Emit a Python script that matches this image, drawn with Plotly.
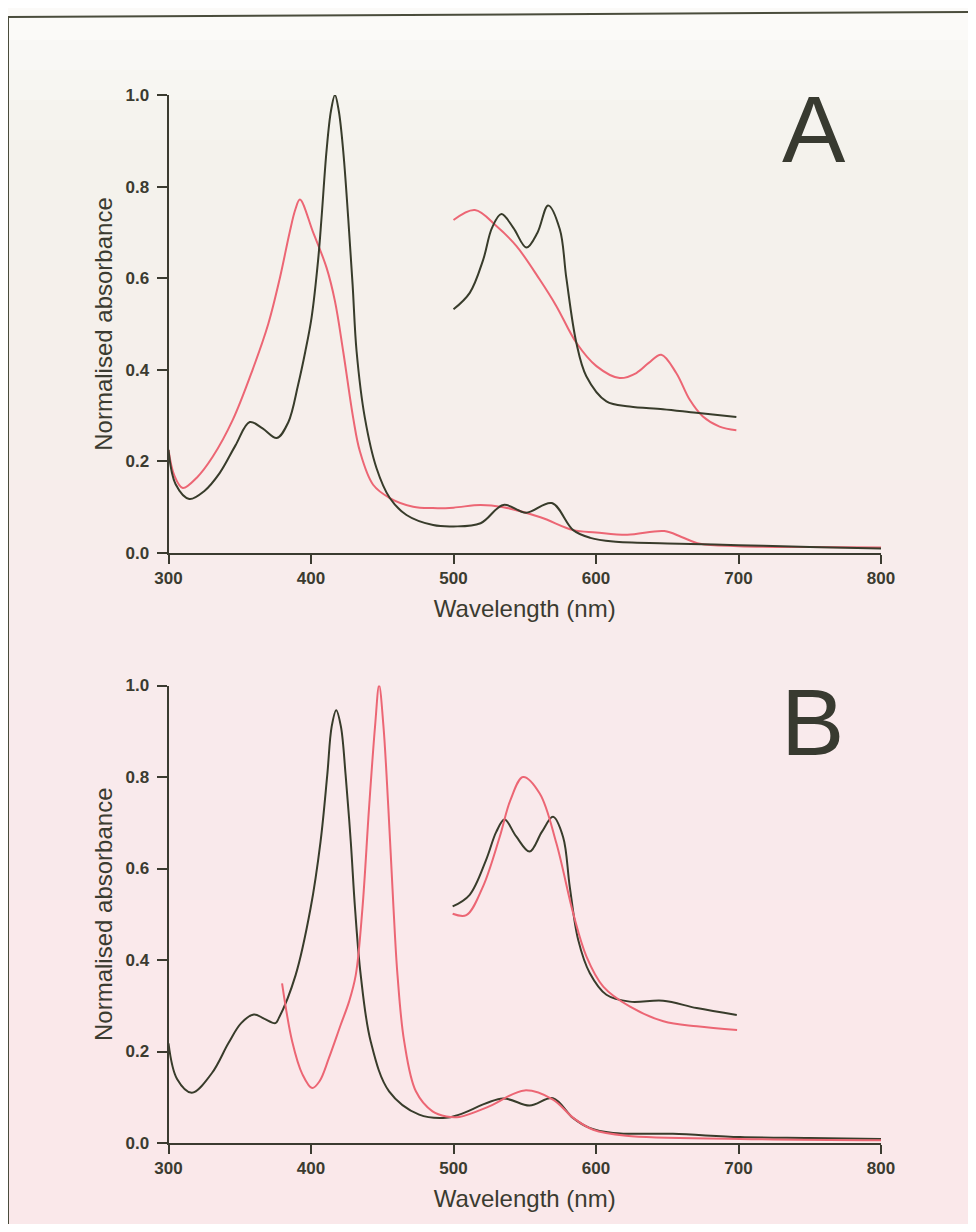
import plotly.graph_objects as go

# ---------------- Panel A data ----------------
a_dark_x = [300, 305, 314.6, 325, 336, 347, 357, 366, 376, 384, 391, 396, 400.4, 405, 407.4, 410.9, 414, 416.8, 419.5, 422.6, 426.1, 429.2, 432, 437.8, 446, 455.3, 467, 485.7, 500, 519, 535, 551, 569, 584, 596, 612, 650, 700, 750, 800]
a_dark_y = [0.225, 0.15, 0.118, 0.135, 0.175, 0.235, 0.286, 0.272, 0.251, 0.285, 0.368, 0.44, 0.514, 0.64, 0.732, 0.878, 0.965, 1.0, 0.965, 0.878, 0.732, 0.586, 0.44, 0.295, 0.185, 0.12, 0.083, 0.061, 0.058, 0.065, 0.105, 0.088, 0.109, 0.05, 0.033, 0.025, 0.021, 0.017, 0.013, 0.01]

a_red_x = [300, 304, 310, 320, 331, 345, 359, 370, 378.2, 385, 389, 392.2, 401.5, 410.9, 416.8, 422.6, 429.6, 434.3, 443.6, 455.3, 471.7, 485.5, 500, 519, 535, 561, 584, 600, 622, 648, 660, 673, 700, 750, 800]
a_red_y = [0.225, 0.17, 0.142, 0.165, 0.21, 0.29, 0.40, 0.50, 0.601, 0.70, 0.75, 0.772, 0.70, 0.623, 0.55, 0.44, 0.295, 0.222, 0.149, 0.12, 0.101, 0.098, 0.099, 0.105, 0.10, 0.078, 0.05, 0.045, 0.04, 0.048, 0.035, 0.02, 0.015, 0.013, 0.012]

# magnified Q-band region, panel A
a_dark_q_x = [500, 511.4, 520.8, 527, 533.6, 542, 551.2, 559, 566.4, 574.6, 579.2, 586.2, 593.2, 607.3, 623.6, 647, 670.4, 698.5]
a_dark_q_y = [0.532, 0.568, 0.64, 0.71, 0.74, 0.71, 0.667, 0.70, 0.759, 0.707, 0.60, 0.459, 0.386, 0.331, 0.32, 0.314, 0.306, 0.297]

a_red_q_x = [500, 515, 530.1, 544.2, 560.5, 572.2, 586.2, 600.3, 616.6, 628.3, 637, 645.8, 656.3, 665.7, 675, 686.7, 698.5]
a_red_q_y = [0.727, 0.749, 0.714, 0.67, 0.597, 0.539, 0.459, 0.408, 0.382, 0.393, 0.415, 0.433, 0.393, 0.335, 0.298, 0.276, 0.268]

# ---------------- Panel B data ----------------
b_dark_x = [300, 306, 316.4, 330.5, 342, 351, 359.9, 367, 375, 377.4, 389.2, 399.7, 406.7, 411.4, 414.5, 417.7, 421, 424.3, 427.9, 430.9, 434.9, 441.9, 454.8, 475.9, 494.8, 504, 534.7, 553.4, 569.8, 583.8, 595.5, 612, 654, 701, 750, 800]
b_dark_y = [0.218, 0.14, 0.11, 0.153, 0.218, 0.262, 0.281, 0.272, 0.262, 0.273, 0.367, 0.513, 0.659, 0.804, 0.91, 0.946, 0.91, 0.804, 0.659, 0.513, 0.367, 0.222, 0.113, 0.062, 0.055, 0.062, 0.097, 0.082, 0.098, 0.055, 0.033, 0.022, 0.02, 0.013, 0.011, 0.009]

b_red_x = [379.7, 386.8, 394, 400.8, 406, 412.6, 420.8, 426.7, 431.4, 436.1, 440.7, 445, 447.8, 450.8, 454.3, 457.9, 460.7, 465.4, 473.6, 485.3, 495, 504, 525, 549.9, 569.8, 584, 598, 621, 701, 800]
b_red_y = [0.349, 0.222, 0.15, 0.12, 0.135, 0.186, 0.258, 0.309, 0.367, 0.513, 0.731, 0.913, 1.0, 0.913, 0.731, 0.513, 0.367, 0.222, 0.113, 0.069, 0.058, 0.057, 0.08, 0.115, 0.095, 0.055, 0.029, 0.016, 0.009, 0.006]

# magnified Q-band region, panel B
b_dark_q_x = [499.4, 511.2, 522.9, 530, 535.8, 544, 553.4, 562, 569.8, 576.9, 581.6, 587.5, 595.7, 607.3, 623.7, 647.1, 670.6, 698.8]
b_dark_q_y = [0.517, 0.542, 0.619, 0.68, 0.707, 0.67, 0.637, 0.68, 0.713, 0.669, 0.56, 0.444, 0.371, 0.324, 0.309, 0.311, 0.295, 0.28]

b_red_q_x = [499.4, 509, 520.6, 532.4, 540, 548.8, 560.5, 572.2, 584, 593.4, 605.1, 623.9, 647.3, 670.8, 699]
b_red_q_y = [0.501, 0.498, 0.56, 0.669, 0.75, 0.80, 0.764, 0.655, 0.502, 0.407, 0.342, 0.298, 0.266, 0.255, 0.247]

x_ticks = [300, 400, 500, 600, 700, 800]
y_ticks = [0.0, 0.2, 0.4, 0.6, 0.8, 1.0]
y_tick_text = ["0.0", "0.2", "0.4", "0.6", "0.8", "1.0"]
panel_labels = ["A", "B"]
x_title = "Wavelength (nm)"
y_title = "Normalised absorbance"

DARK = "#383c2b"
RED = "#ec6674"
INK = "#3b3b30"
# figure sits inside the page's 8px body margin
OFF = 8
W, H = 960, 1216

def px(x):
    return (x - OFF) / W

def py(y):
    return 1 - (y - OFF) / H

fig = go.Figure()

def add(x, y, color, xa, ya):
    fig.add_trace(go.Scatter(x=x, y=y, mode="lines", xaxis=xa, yaxis=ya,
                             line=dict(color=color, width=2, shape="spline", smoothing=1.0),
                             showlegend=False, hoverinfo="x+y"))

# panel A
add(a_red_x, a_red_y, RED, "x", "y")
add(a_dark_x, a_dark_y, DARK, "x", "y")
add(a_red_q_x, a_red_q_y, RED, "x", "y")
add(a_dark_q_x, a_dark_q_y, DARK, "x", "y")
# panel B
add(b_dark_x, b_dark_y, DARK, "x2", "y2")
add(b_red_x, b_red_y, RED, "x2", "y2")
add(b_dark_q_x, b_dark_q_y, DARK, "x2", "y2")
add(b_red_q_x, b_red_q_y, RED, "x2", "y2")

xdom = [px(168.5), px(881)]
ydomA = [py(553), py(95)]
ydomB = [py(1143), py(685.5)]

tickfont = dict(family="Liberation Sans, Arial, sans-serif", size=17, color=INK, weight="bold")
titlefont = dict(family="Liberation Sans, Arial, sans-serif", size=24, color=INK)

def xaxis(anchor):
    return dict(domain=xdom, range=[300, 800], anchor=anchor, tickvals=x_ticks,
                showline=True, linecolor=INK, linewidth=2, ticks="outside", ticklen=9,
                tickwidth=2, tickcolor=INK, showgrid=False, zeroline=False, automargin=False,
                tickfont=tickfont, title=dict(text=x_title, font=titlefont, standoff=13))

def yaxis(dom, anchor):
    return dict(domain=dom, range=[0, 1], anchor=anchor, tickvals=y_ticks, ticktext=y_tick_text,
                showline=True, linecolor=INK, linewidth=2, ticks="outside", ticklen=10,
                tickwidth=2, tickcolor=INK, showgrid=False, zeroline=False, automargin=False,
                ticklabelstandoff=4,
                tickfont=tickfont, title=dict(text=y_title, font=titlefont, standoff=6))

# background bands (scanned-paper tint), graded top to bottom
shapes = []
band_edges = [0, 40, 70, 100, 140, 200, 270, 340, 410, 480, 550, 620, 700, 800, 900, 1000, 1240]
band_colors = ["#fbfaf8", "#f9f8f5", "#f7f6f2", "#f5f3ee", "#f4f2ec", "#f4f1ec", "#f5f0eb",
               "#f5efeb", "#f6eeeb", "#f7edeb", "#f8ecec", "#f8ebec", "#f9eaec", "#f9e9eb",
               "#fae9eb", "#fae8ea"]
for i, c in enumerate(band_colors):
    y0, y1 = band_edges[i], band_edges[i + 1]
    shapes.append(dict(type="rect", xref="paper", yref="paper", x0=0, x1=1,
                       y0=max(py(y1), 0), y1=min(py(y0), 1), fillcolor=c, line=dict(width=0), layer="below"))
# frame of the scanned figure
shapes.append(dict(type="line", xref="paper", yref="paper", x0=px(8), x1=1, y0=py(17), y1=py(12),
                   line=dict(color="#4a4c3c", width=2)))
shapes.append(dict(type="line", xref="paper", yref="paper", x0=px(8), x1=px(8), y0=0, y1=py(17),
                   line=dict(color="#4a4c3c", width=2)))

annotations = [
    dict(text=panel_labels[0], xref="paper", yref="paper", x=px(814), y=py(129), showarrow=False,
         font=dict(family="Liberation Sans, Arial, sans-serif", size=95, color="#383a30"),
         xanchor="center", yanchor="middle"),
    dict(text=panel_labels[1], xref="paper", yref="paper", x=px(812), y=py(722), showarrow=False,
         font=dict(family="Liberation Sans, Arial, sans-serif", size=95, color="#383a30"),
         xanchor="center", yanchor="middle"),
]

fig.update_layout(
    width=W, height=H, autosize=False,
    margin=dict(l=0, r=0, t=0, b=0, pad=0, autoexpand=False),
    paper_bgcolor="#f8f5f2", plot_bgcolor="rgba(0,0,0,0)",
    xaxis=xaxis("y"), yaxis=yaxis(ydomA, "x"),
    xaxis2=xaxis("y2"), yaxis2=yaxis(ydomB, "x2"),
    shapes=shapes, annotations=annotations,
)

fig.write_html("out.html")
